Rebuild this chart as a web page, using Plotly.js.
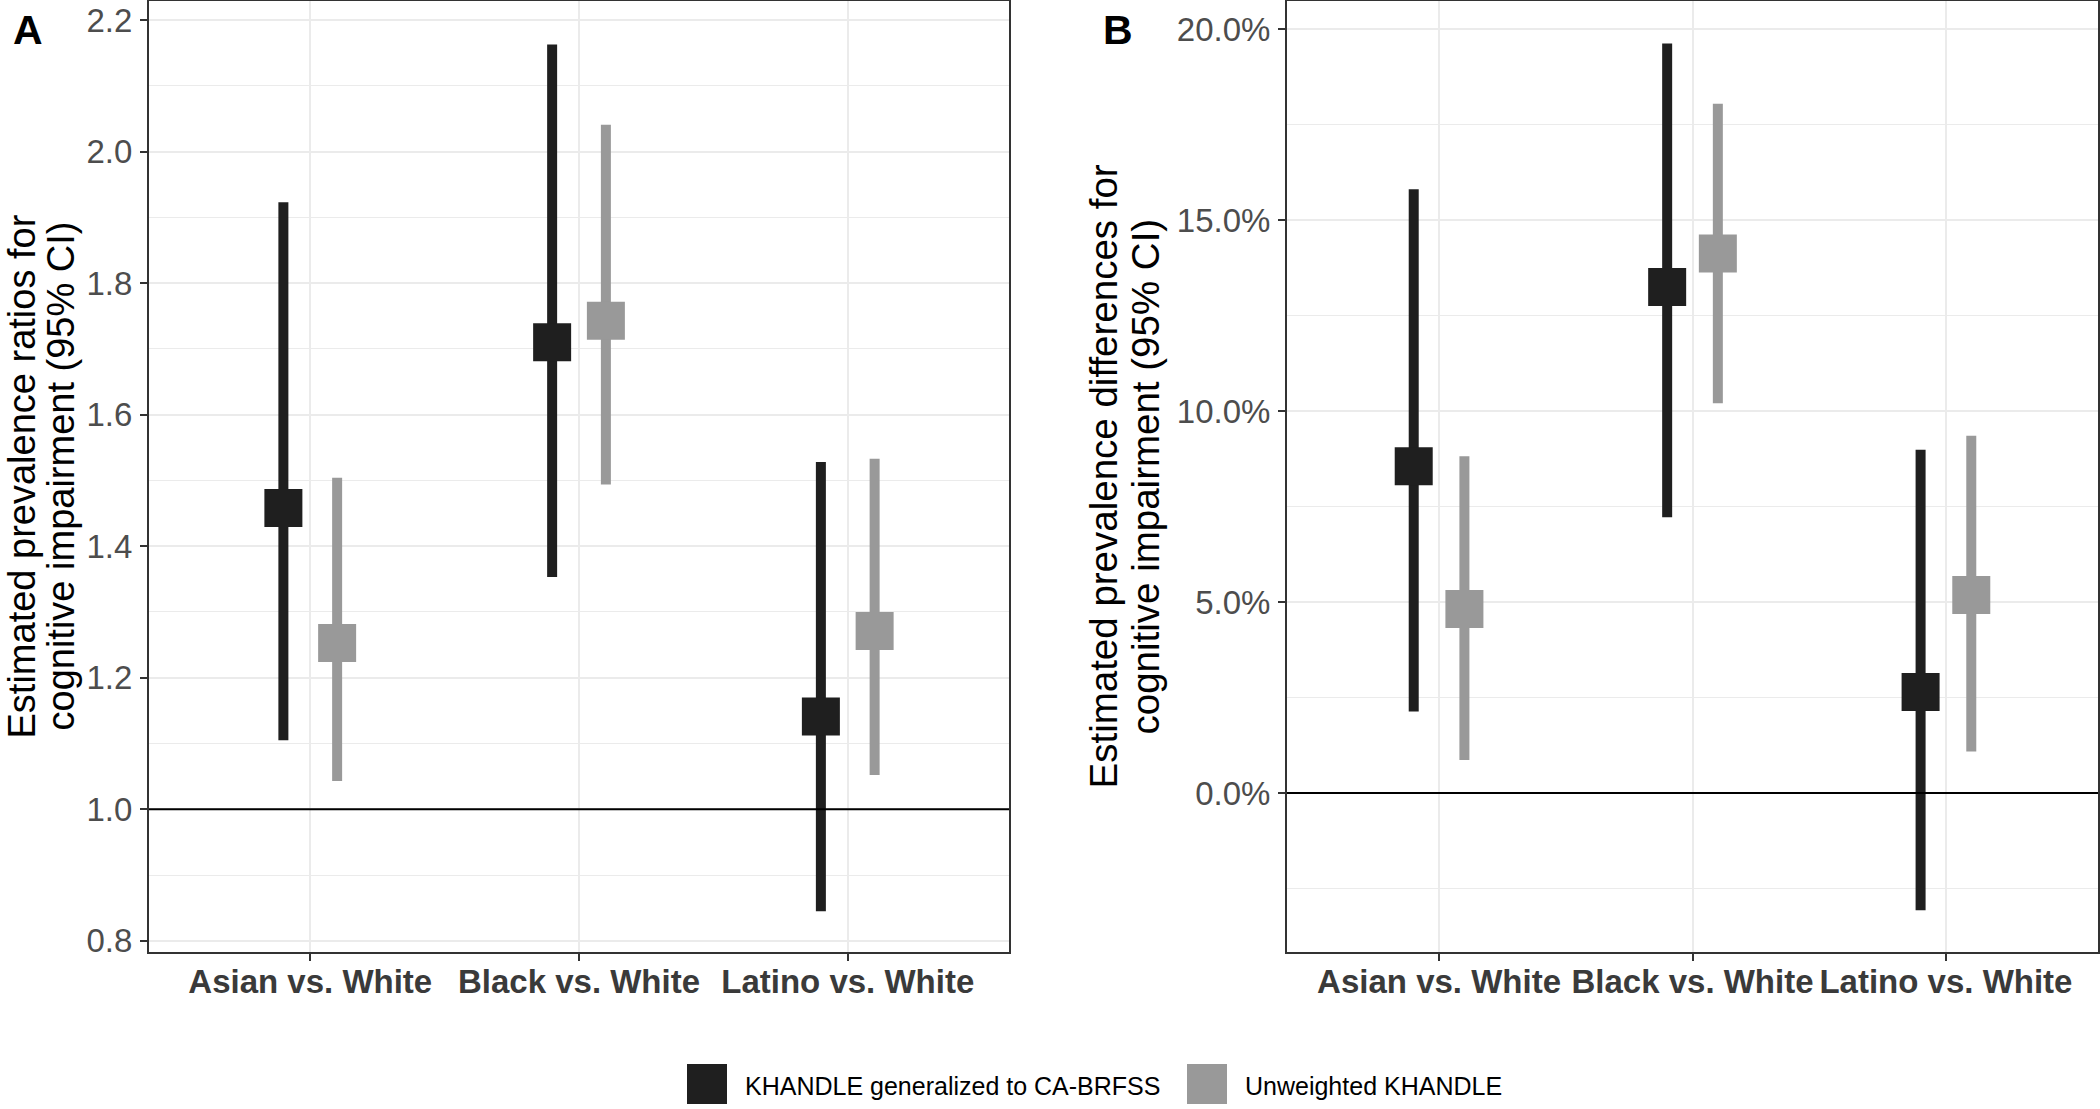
<!DOCTYPE html>
<html>
<head>
<meta charset="utf-8">
<script src="https://cdn.plot.ly/plotly-3.0.1.min.js"></script>
<style>
html, body { margin: 0; padding: 0; background: #ffffff; }
#chart { width: 2100px; height: 1109px; }
</style>
</head>
<body>
<div id="chart"></div>
<script>
// ---------------- DATA ----------------
const categories = ['Asian vs. White', 'Black vs. White', 'Latino vs. White'];
const seriesNames = ['KHANDLE generalized to CA-BRFSS', 'Unweighted KHANDLE'];

// Panel A: estimated prevalence ratios (95% CI)
const prGenEst = [1.458, 1.710, 1.141];
const prGenLow = [1.105, 1.353, 0.845];
const prGenHigh = [1.923, 2.163, 1.528];
const prUnwEst = [1.253, 1.743, 1.271];
const prUnwLow = [1.043, 1.494, 1.052];
const prUnwHigh = [1.504, 2.041, 1.533];

// Panel B: estimated prevalence differences, % (95% CI)
const pdGenEst = [8.56, 13.25, 2.65];
const pdGenLow = [2.14, 7.22, -3.07];
const pdGenHigh = [15.81, 19.63, 8.99];
const pdUnwEst = [4.82, 14.13, 5.19];
const pdUnwLow = [0.87, 10.21, 1.09];
const pdUnwHigh = [8.82, 18.05, 9.36];

// ---------------- STYLE ----------------
const W = 2100, H = 1109;
const FONT = 'Liberation Sans, Arial, sans-serif';
const seriesColors = ['#1f1f1f', '#999999'];
const dodge = [-0.1, 0.1];
const GRID = '#EBEBEB';
const AXIS = '#333333';

function px2x(p) { return p / W; }
function px2y(p) { return 1 - p / H; }

function makeTrace(est, low, high, si, xa, ya) {
  return {
    type: 'scatter', mode: 'markers',
    x: categories.map((c, i) => i + 1 + dodge[si]),
    y: est,
    xaxis: xa, yaxis: ya,
    name: seriesNames[si],
    showlegend: false,
    hoverinfo: 'skip',
    marker: { symbol: 'square', size: 38, color: seriesColors[si], line: { width: 0 } },
    error_y: {
      type: 'data', symmetric: false,
      array: high.map((h, i) => h - est[i]),
      arrayminus: est.map((e, i) => e - low[i]),
      color: seriesColors[si], thickness: 10, width: 0
    }
  };
}

const data = [
  makeTrace(prGenEst, prGenLow, prGenHigh, 0, 'x', 'y'),
  makeTrace(prUnwEst, prUnwLow, prUnwHigh, 1, 'x', 'y'),
  makeTrace(pdGenEst, pdGenLow, pdGenHigh, 0, 'x2', 'y2'),
  makeTrace(pdUnwEst, pdUnwLow, pdUnwHigh, 1, 'x2', 'y2')
];

const yDomain = [px2y(952), px2y(1)];

function xAxis(domain, anchor) {
  return {
    domain: domain, anchor: anchor, range: [0.4, 3.6],
    tickvals: [1, 2, 3], ticktext: categories,
    showgrid: true, gridcolor: GRID, gridwidth: 2, zeroline: false,
    showline: true, mirror: true, linecolor: AXIS, linewidth: 2,
    ticks: 'outside', ticklen: 7, tickwidth: 2, tickcolor: AXIS,
    ticklabelstandoff: -8,
    tickfont: { family: FONT, size: 33, color: '#3a3a3a', weight: 'bold' },
    fixedrange: true
  };
}

function yAxis(domain, anchor, range, tick0, dtick, minorDtick, suffix, fmt) {
  return {
    domain: domain, anchor: anchor, range: range,
    tickmode: 'linear', tick0: tick0, dtick: dtick,
    tickformat: fmt, ticksuffix: suffix,
    showgrid: true, gridcolor: GRID, gridwidth: 2, zeroline: false,
    minor: { tick0: tick0, dtick: minorDtick, showgrid: true, gridcolor: GRID, gridwidth: 1, ticks: '' },
    showline: true, mirror: true, linecolor: AXIS, linewidth: 2,
    ticks: 'outside', ticklen: 7, tickwidth: 2, tickcolor: AXIS,
    ticklabelstandoff: 1,
    tickfont: { family: FONT, size: 33, color: '#4d4d4d' },
    fixedrange: true
  };
}

const plotCenterY = px2y((1 + 952) / 2);

const annotations = [
  { text: '<b>A</b>', x: px2x(27.5), y: px2y(30), xref: 'paper', yref: 'paper', xanchor: 'center', yanchor: 'middle', showarrow: false, font: { family: FONT, size: 41, color: '#000' } },
  { text: '<b>B</b>', x: px2x(1117.5), y: px2y(30), xref: 'paper', yref: 'paper', xanchor: 'center', yanchor: 'middle', showarrow: false, font: { family: FONT, size: 41, color: '#000' } },
  { text: 'Estimated prevalence ratios for', textangle: -90, x: px2x(21), y: plotCenterY, xref: 'paper', yref: 'paper', xanchor: 'center', yanchor: 'middle', showarrow: false, font: { family: FONT, size: 38, color: '#000' } },
  { text: 'cognitive impairment (95% CI)', textangle: -90, x: px2x(60), y: plotCenterY, xref: 'paper', yref: 'paper', xanchor: 'center', yanchor: 'middle', showarrow: false, font: { family: FONT, size: 38, color: '#000' } },
  { text: 'Estimated prevalence differences for', textangle: -90, x: px2x(1103), y: plotCenterY, xref: 'paper', yref: 'paper', xanchor: 'center', yanchor: 'middle', showarrow: false, font: { family: FONT, size: 38.5, color: '#000' } },
  { text: 'cognitive impairment (95% CI)', textangle: -90, x: px2x(1145), y: plotCenterY, xref: 'paper', yref: 'paper', xanchor: 'center', yanchor: 'middle', showarrow: false, font: { family: FONT, size: 38.5, color: '#000' } }
];

const shapes = [
  { type: 'line', xref: 'x domain', yref: 'y', x0: 0, x1: 1, y0: 1, y1: 1, line: { color: '#000', width: 2 }, layer: 'above' },
  { type: 'line', xref: 'x2 domain', yref: 'y2', x0: 0, x1: 1, y0: 0, y1: 0, line: { color: '#000', width: 2 }, layer: 'above' }
];

// Manual legend (large square keys as in the reference)
const legendKeyX = [687, 1187];
const legendTop = 1064, legendKey = 40;
seriesNames.forEach((nm, i) => {
  shapes.push({ type: 'rect', xref: 'paper', yref: 'paper',
    x0: px2x(legendKeyX[i]), x1: px2x(legendKeyX[i] + legendKey),
    y0: px2y(legendTop + legendKey), y1: px2y(legendTop),
    fillcolor: seriesColors[i], line: { width: 0 } });
  annotations.push({ text: nm, x: px2x(legendKeyX[i] + legendKey + 16), y: px2y(1086),
    xref: 'paper', yref: 'paper', xanchor: 'left', yanchor: 'middle', showarrow: false,
    font: { family: FONT, size: 25, color: '#000' } });
});

const layout = {
  width: W, height: H,
  margin: { l: 0, r: 0, t: 0, b: 0 },
  paper_bgcolor: '#ffffff', plot_bgcolor: '#ffffff',
  showlegend: false,
  font: { family: FONT },
  xaxis: xAxis([px2x(149), px2x(1009)], 'y'),
  yaxis: yAxis(yDomain, 'x', [0.783, 2.229], 0.8, 0.2, 0.1, '', '.1f'),
  xaxis2: xAxis([px2x(1287), px2x(2098)], 'y2'),
  yaxis2: yAxis(yDomain, 'x2', [-4.16, 20.74], 0, 5, 2.5, '%', '.1f'),
  annotations: annotations,
  shapes: shapes
};

Plotly.newPlot('chart', data, layout, { staticPlot: true, displayModeBar: false });
</script>
</body>
</html>
